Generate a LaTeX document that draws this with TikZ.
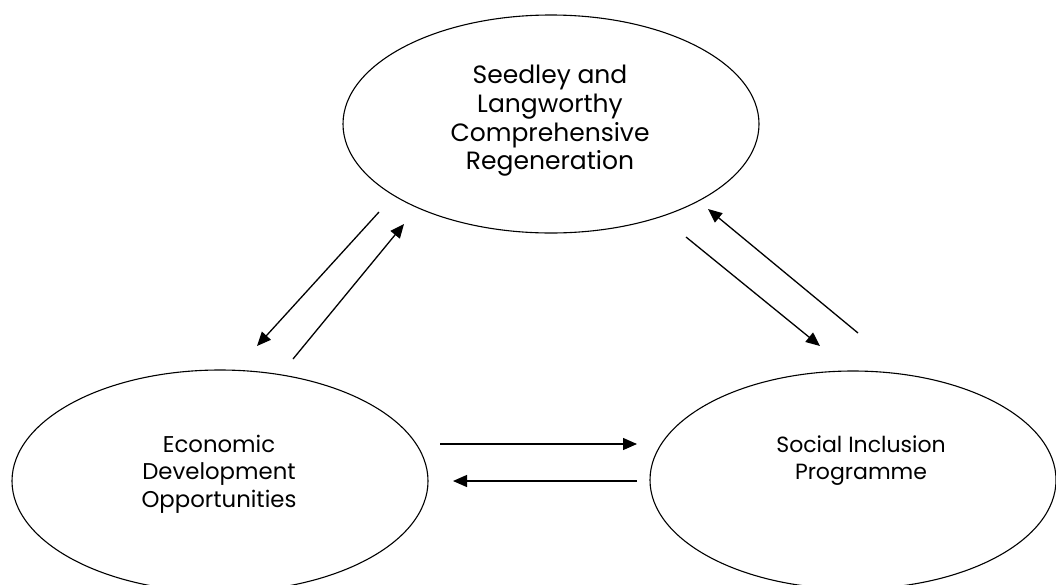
\documentclass[tikz,border=0pt]{standalone}
\usepackage{fontspec}
\setmainfont{Poppins}
\usetikzlibrary{arrows.meta,shapes.geometric}
\tikzset{
  every node/.style={text=black},
  blob/.style={draw, ellipse, line width=1.1pt, inner sep=0pt},
  txt/.style={align=center, inner sep=0pt},
  link/.style={-{Triangle[length=14pt,width=12pt]}, line width=1.3pt},
}
\begin{document}
\begin{tikzpicture}[x=1pt, y=-1pt]
  \useasboundingbox (0,0) rectangle (1056,584);
  % the three parts
  \node[blob, minimum width=416pt, minimum height=218pt] (reg) at (551,124) {};
  \node[txt, font=\fontsize{25}{28.7}\selectfont] (regt) at (550,121)
    {Seedley and\\Langworthy\\Comprehensive\\Regeneration};
  \node[blob, minimum width=416pt, minimum height=222pt] (eco) at (220,481) {};
  \node[txt, font=\fontsize{22.8}{27.5}\selectfont] (ecot) at (219,474)
    {Economic\\Development\\Opportunities};
  \node[blob, minimum width=406pt, minimum height=218pt] (soc) at (853,480) {};
  \node[txt, font=\fontsize{22}{27}\selectfont] (soct) at (861,461)
    {Social Inclusion\\Programme};

  % arrow ends
  \coordinate (a1) at (379,212); \coordinate (b1) at (257,346);
  \coordinate (a2) at (293,359); \coordinate (b2) at (404,224);
  \coordinate (a3) at (686,237); \coordinate (b3) at (820,346);
  \coordinate (a4) at (858,333); \coordinate (b4) at (708,209);
  \coordinate (a5) at (440,444); \coordinate (b5) at (637,444);
  \coordinate (a6) at (637,481); \coordinate (b6) at (453,481);
  \foreach \i in {1,...,6} { \draw[link] (a\i) -- (b\i); }
\end{tikzpicture}
\end{document}
